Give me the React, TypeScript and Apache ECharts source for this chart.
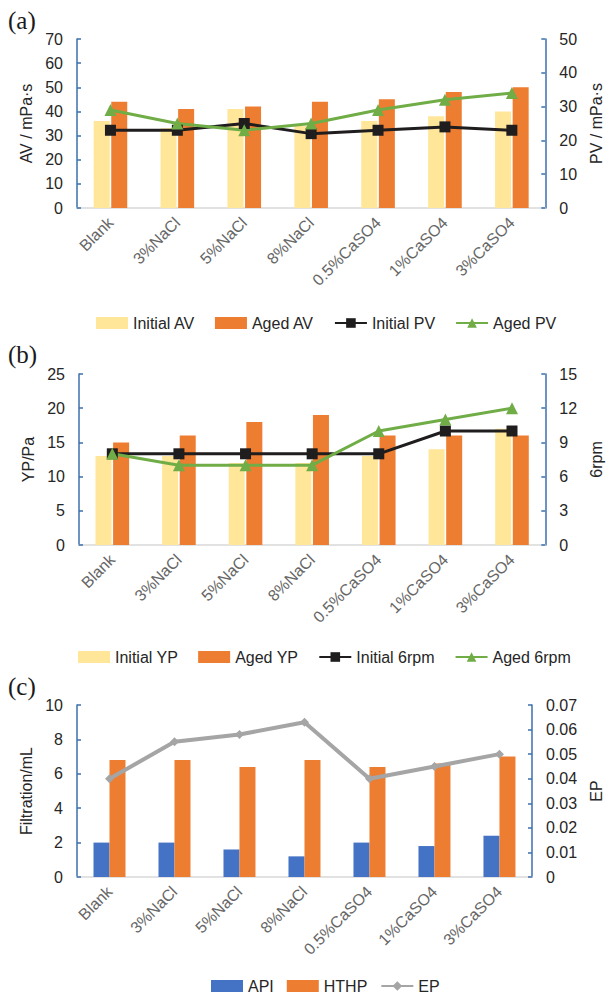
import React, { useEffect, useRef } from "react";
import * as echarts from "echarts";

const categories = ["Blank", "3%NaCl", "5%NaCl", "8%NaCl", "0.5%CaSO4", "1%CaSO4", "3%CaSO4"];

// (a)
const initialAV = [36, 33, 41, 34, 36, 38, 40];
const agedAV = [44, 41, 42, 44, 45, 48, 50];
const initialPV = [23, 23, 25, 22, 23, 24, 23];
const agedPV = [29, 25, 23, 25, 29, 32, 34];

// (b)
const initialYP = [13, 13, 12, 12, 13, 14, 17];
const agedYP = [15, 16, 18, 19, 16, 16, 16];
const initial6rpm = [8, 8, 8, 8, 8, 10, 10];
const aged6rpm = [8, 7, 7, 7, 10, 11, 12];

// (c)
const api = [2, 2, 1.6, 1.2, 2, 1.8, 2.4];
const hthp = [6.8, 6.8, 6.4, 6.8, 6.4, 6.6, 7];
const ep = [0.04, 0.055, 0.058, 0.063, 0.04, 0.045, 0.05];

const FONT = "Liberation Sans, Arial, sans-serif";
const AXIS_BLUE = "#3b6fae";
const YELLOW = "#FFE699";
const ORANGE = "#ED7D31";
const BLUE = "#4472C4";
const BLACK = "#1f1d1e";
const GREEN = "#70AD47";
const GRAY = "#A5A5A5";

function App() {
  const ref = useRef<HTMLDivElement>(null);
  useEffect(() => {
    if (!ref.current) return;
    const chart = echarts.init(ref.current, null, { renderer: "svg" });

    const grids = [
      { left: 77, top: 39, width: 482, height: 169 },
      { left: 79, top: 374, width: 477, height: 171 },
      { left: 77, top: 705, width: 465, height: 172 },
    ];

    const xAxes = grids.map((_, i) => ({
      type: "category",
      gridIndex: i,
      data: categories,
      axisLine: { show: true, lineStyle: { color: "#d9d9d9", width: 1.5 } },
      axisTick: { show: false },
      axisLabel: {
        rotate: 45,
        margin: 12,
        fontSize: 16,
        color: "#666666",
        fontFamily: FONT,
        interval: 0,
      },
    }));

    const yBase = (gridIndex: number, position: string, min: number, max: number, interval: number, name: string, nameGap: number, formatter?: any) => ({
      type: "value",
      gridIndex,
      position,
      min,
      max,
      interval,
      name,
      nameLocation: "middle",
      nameGap,
      nameTextStyle: { fontSize: 16, color: "#262626", fontFamily: FONT },
      axisLine: { show: true, lineStyle: { color: AXIS_BLUE, width: 1.5 } },
      axisTick: { show: true, inside: true, length: 4, lineStyle: { color: AXIS_BLUE, width: 1.5 } },
      splitLine: { show: false },
      axisLabel: {
        fontSize: 16,
        color: "#262626",
        fontFamily: FONT,
        margin: 14,
        formatter,
      },
    });

    const epFmt = (v: number) => (v === 0 ? "0" : v.toFixed(2));

    const yAxes = [
      yBase(0, "left", 0, 70, 10, "AV / mPa·s", 38),
      yBase(0, "right", 0, 50, 10, "PV / mPa·s", 38),
      yBase(1, "left", 0, 25, 5, "YP/Pa", 38),
      yBase(1, "right", 0, 15, 3, "6rpm", 38),
      yBase(2, "left", 0, 10, 2, "Filtration/mL", 38),
      yBase(2, "right", 0, 0.07, 0.01, "EP", 52, epFmt),
    ];

    const bar = (name: string, data: number[], color: string, xi: number, yi: number, barGap = "10%") => ({
      name,
      type: "bar",
      xAxisIndex: xi,
      yAxisIndex: yi,
      data,
      barWidth: 16,
      barGap,
      itemStyle: { color },
      z: 2,
    });

    const line = (name: string, data: number[], color: string, xi: number, yi: number, symbol: string, symbolSize: number, width: number) => ({
      name,
      type: "line",
      xAxisIndex: xi,
      yAxisIndex: yi,
      data,
      symbol,
      symbolSize,
      lineStyle: { color, width },
      itemStyle: { color },
      z: 5,
    });

    const legendBase = (left: number, top: number, data: any[], itemGap: number) => ({
      left,
      top,
      data,
      itemGap,
      itemWidth: 32,
      itemHeight: 12,
      textStyle: { fontSize: 16, color: "#262626", fontFamily: FONT },
    });

    const option: any = {
      animation: false,
      backgroundColor: "#ffffff",
      grid: grids,
      xAxis: xAxes,
      yAxis: yAxes,
      legend: [
        legendBase(91, 310, [
          { name: "Initial AV", icon: "rect" },
          { name: "Aged AV", icon: "rect" },
          "Initial PV",
          "Aged PV",
        ], 20),
        legendBase(73, 644, [
          { name: "Initial YP", icon: "rect" },
          { name: "Aged YP", icon: "rect" },
          "Initial 6rpm",
          "Aged 6rpm",
        ], 20),
        legendBase(206, 973, [
          { name: "API", icon: "rect" },
          { name: "HTHP", icon: "rect" },
          "EP",
        ], 13),
      ],
      series: [
        bar("Initial AV", initialAV, YELLOW, 0, 0),
        bar("Aged AV", agedAV, ORANGE, 0, 0),
        line("Initial PV", initialPV, BLACK, 0, 1, "rect", 11, 3),
        line("Aged PV", agedPV, GREEN, 0, 1, "triangle", 12, 3),

        bar("Initial YP", initialYP, YELLOW, 1, 2),
        bar("Aged YP", agedYP, ORANGE, 1, 2),
        line("Initial 6rpm", initial6rpm, BLACK, 1, 3, "rect", 11, 3),
        line("Aged 6rpm", aged6rpm, GREEN, 1, 3, "triangle", 12, 3),

        bar("API", api, BLUE, 2, 4, "0%"),
        bar("HTHP", hthp, ORANGE, 2, 4, "0%"),
        line("EP", ep, GRAY, 2, 5, "diamond", 9, 4),
      ],
      graphic: [
        { type: "text", left: 8, top: 8, style: { text: "(a)", fontSize: 25, fontFamily: "Liberation Serif, Times New Roman, serif", fill: "#1a1a1a" } },
        { type: "text", left: 8, top: 342, style: { text: "(b)", fontSize: 25, fontFamily: "Liberation Serif, Times New Roman, serif", fill: "#1a1a1a" } },
        { type: "text", left: 8, top: 674, style: { text: "(c)", fontSize: 25, fontFamily: "Liberation Serif, Times New Roman, serif", fill: "#1a1a1a" } },
      ],
    };

    chart.setOption(option);
    return () => chart.dispose();
  }, []);

  return (
    <div
      ref={ref}
      style={{ position: "fixed", left: 0, top: 0, width: 612, height: 994, background: "#fff" }}
    />
  );
}

export default App;
